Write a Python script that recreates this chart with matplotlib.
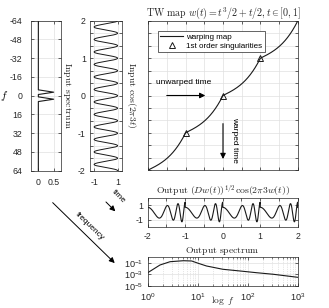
import numpy as np
import matplotlib.pyplot as plt
from matplotlib.ticker import FixedLocator, FixedFormatter, NullFormatter, LogLocator

plt.rcParams['font.family'] = ['Liberation Sans', 'DejaVu Sans']
plt.rcParams['mathtext.fontset'] = 'cm'
plt.rcParams['axes.unicode_minus'] = False
plt.rcParams['axes.linewidth'] = 0.5
plt.rcParams['axes.edgecolor'] = '0.15'
plt.rcParams['xtick.color'] = '0.15'
plt.rcParams['ytick.color'] = '0.15'

W, H = 329, 308
fig = plt.figure(figsize=(W / 100, H / 100), dpi=100)

# ---- data ----
# input spectrum (two spikes of the cosine)
spec_f = [-64, -5, -3, -1, 1, 3, 5, 64]
spec_amp = [0, 0, 0.5, 0, 0, 0.5, 0, 0]
spec_ticks = [-64, -48, -32, -16, 0, 16, 32, 48, 64]

# input signal cos(2*pi*3*t) and the warping map from the title
IN_FREQ = 3
T_LO, T_HI = -2, 2
WARP_A, WARP_B = 0.5, 0.5      # w(t) = a t^3 + b t on [0, 1]
sing_t = [-1, 0, 1]

# output spectrum
out_f = [1, 1.76, 2.8, 5.2, 7.6, 10.3, 15, 32, 70, 151, 326, 1000]
out_log_amp = [-2.71, -1.38, -0.81, -0.64, -0.69, -1.09, -1.55, -2.12,
               -2.41, -2.71, -2.98, -3.5]

TICK_FS = 6.3
GRID = dict(color='0.88', linewidth=0.5)


def axes_px(x0, y0, x1, y1):
    return fig.add_axes([x0 / W, 1 - y1 / H, (x1 - x0) / W, (y1 - y0) / H])


def style(ax, xpad=4.5, ypad=3):
    ax.tick_params(direction='in', length=2, width=0.5, top=True, right=True,
                   labelsize=TICK_FS)
    ax.tick_params(axis='x', pad=xpad)
    ax.tick_params(axis='y', pad=ypad)
    ax.grid(True, **GRID)
    ax.set_axisbelow(True)


def warp(t):
    k = np.floor(t)
    s = t - k
    return k + WARP_A * s ** 3 + WARP_B * s


def dwarp(t):
    s = t - np.floor(t)
    return 3 * WARP_A * s ** 2 + WARP_B


# ---- input spectrum ----
ax1 = axes_px(30.7, 20.7, 61.3, 170.7)
ax1.plot(spec_amp, spec_f, color='0.1', lw=0.8)
ax1.set_xlim(-0.25, 0.75)
ax1.set_ylim(64, -64)
ax1.set_yticks(spec_ticks)
ax1.set_xticks([0, 0.5])
ax1.set_xticklabels(['0', '0.5'])
style(ax1, xpad=5, ypad=6)
ax1.set_ylabel(r'$f$', rotation=0, fontsize=8, labelpad=4, va='center')
ax1.text(1.19, 0.5, r'$\mathrm{Input\ spectrum}$', transform=ax1.transAxes,
         rotation=-90, ha='center', va='center', fontsize=7, color='0.15')

# ---- input signal ----
ax2 = axes_px(90, 20.7, 121.7, 170.7)
t_in = np.linspace(T_LO, T_HI, 1200)
ax2.plot(np.cos(2 * np.pi * IN_FREQ * t_in), t_in, color='0.1', lw=0.7)
ax2.set_xlim(-1.35, 1.35)
ax2.set_ylim(T_LO, T_HI)
ax2.set_xticks([-1, 1])
yt = np.arange(-6, 7) / 3
ax2.yaxis.set_major_locator(FixedLocator(yt))
ax2.yaxis.set_major_formatter(FixedFormatter(
    [str(int(round(v))) if abs(v - round(v)) < 1e-6 else '' for v in yt]))
style(ax2, xpad=5)
ax2.text(1.3, 0.5, r'$\mathrm{Input}\ \cos(2\pi 3t)$', transform=ax2.transAxes,
         rotation=-90, ha='center', va='center', fontsize=7, color='0.15')

# ---- warping map ----
ax3 = axes_px(148.3, 21, 297.7, 170)
t_map = np.linspace(T_LO, T_HI, 1201)
ax3.plot(t_map, warp(t_map), color='0.1', lw=0.8, label='warping map')
ax3.plot(sing_t, warp(np.array(sing_t, float)), ls='none', marker='^', ms=5,
         mfc='none', mec='0.1', mew=0.7, label='1st order singularities')
ax3.set_xlim(T_LO, T_HI)
ax3.set_ylim(T_LO, T_HI)
ax3.set_xticks(np.arange(-4, 5) / 2)
ax3.set_yticks(yt)
ax3.xaxis.set_major_formatter(NullFormatter())
ax3.yaxis.set_major_formatter(NullFormatter())
style(ax3)
ax3.set_title(r'$\mathrm{TW\ map}\ w(t)=t^3/2+t/2, t\in[0,1]$', fontsize=7.2,
              pad=3, color='0.15')
leg = ax3.legend(loc='upper left', bbox_to_anchor=(0.065, 0.935), fontsize=5.8,
                 frameon=True, fancybox=False, edgecolor='0.15', framealpha=1,
                 handlelength=2.8, borderaxespad=0, borderpad=0.3,
                 labelspacing=0.2, handletextpad=0.4)
leg.get_frame().set_linewidth(0.5)
ax3.annotate('', xy=(-0.4, 0), xytext=(-1.58, 0),
             arrowprops=dict(arrowstyle='-|>', color='k', lw=0.8, mutation_scale=8))
ax3.text(-1.8, 0.34, 'unwarped time', fontsize=6, va='center', ha='left')
ax3.annotate('', xy=(0, -1.78), xytext=(0, -0.68),
             arrowprops=dict(arrowstyle='-|>', color='k', lw=0.8, mutation_scale=8))
ax3.text(0.32, -1.19, 'warped time', fontsize=6, va='center', ha='center',
         rotation=-90)

# ---- output signal ----
ax4 = axes_px(147.7, 198, 297.7, 226.7)
t_out = np.linspace(T_LO, T_HI, 4001)
y_out = np.sqrt(dwarp(t_out)) * np.cos(2 * np.pi * IN_FREQ * warp(t_out))
ax4.plot(t_out, y_out, color='0.1', lw=0.8)
ax4.set_xlim(T_LO, T_HI)
ax4.set_ylim(-2, 2)
xt = np.arange(-4, 5) / 2
ax4.xaxis.set_major_locator(FixedLocator(xt))
ax4.xaxis.set_major_formatter(FixedFormatter(
    [str(int(v)) if v == int(v) else '' for v in xt]))
ax4.set_yticks([-1, 1])
style(ax4, xpad=4)
ax4.set_title(r'$\mathrm{Output}\ (Dw(t))^{1/2}\cos(2\pi 3w(t))$', fontsize=7,
              pad=3, color='0.15')

# ---- output spectrum ----
ax5 = axes_px(147.7, 257, 297.7, 286)
ax5.loglog(out_f, 10.0 ** np.array(out_log_amp), color='0.1', lw=0.8)
ax5.set_xlim(1, 1000)
ax5.set_ylim(1e-5, 1)
ax5.set_xticks([1, 10, 100, 1000])
ax5.set_xticklabels([r'$\mathregular{10^{%d}}$' % k for k in range(4)])
ax5.set_yticks([1e-5, 1e-3, 1e-1])
ax5.set_yticklabels([r'$\mathregular{10^{%d}}$' % k for k in (-5, -3, -1)])
ax5.yaxis.set_minor_formatter(NullFormatter())
ax5.yaxis.set_minor_locator(FixedLocator([]))
ax5.xaxis.set_minor_locator(LogLocator(base=10, subs=np.arange(2, 10)))
ax5.xaxis.set_minor_formatter(NullFormatter())
ax5.tick_params(direction='in', length=2, width=0.5, top=True, right=True,
                labelsize=TICK_FS + 0.3, pad=3)
ax5.tick_params(axis='x', pad=3.5)
ax5.tick_params(which='minor', direction='in', length=1.2, width=0.4,
                top=True, right=True)
ax5.grid(True, which='major', **GRID)
ax5.grid(True, which='minor', axis='x', color='0.8', linewidth=0.5, ls=':')
ax5.set_axisbelow(True)
ax5.set_title(r'$\mathrm{Output\ spectrum}$', fontsize=7, pad=3, color='0.15')
ax5.set_xlabel(r'$\log\ f$', fontsize=6.8, labelpad=-6, color='0.15')

# ---- diagonal arrows between panels ----
ov = fig.add_axes([0, 0, 1, 1])
ov.set_xlim(0, W)
ov.set_ylim(H, 0)
ov.axis('off')
ov.annotate('', xy=(117.3, 213.3), xytext=(104, 200),
            arrowprops=dict(arrowstyle='-|>', color='k', lw=0.7, mutation_scale=8))
ov.text(118.5, 197, 'time', rotation=-45, fontsize=6, ha='center', va='center')
ov.annotate('', xy=(116.7, 265), xytext=(50.7, 200.7),
            arrowprops=dict(arrowstyle='-|>', color='k', lw=0.7, mutation_scale=8))
ov.text(89.5, 226.7, 'frequency', rotation=-44, fontsize=6, ha='center', va='center')

fig.savefig('out.png', dpi=100)
